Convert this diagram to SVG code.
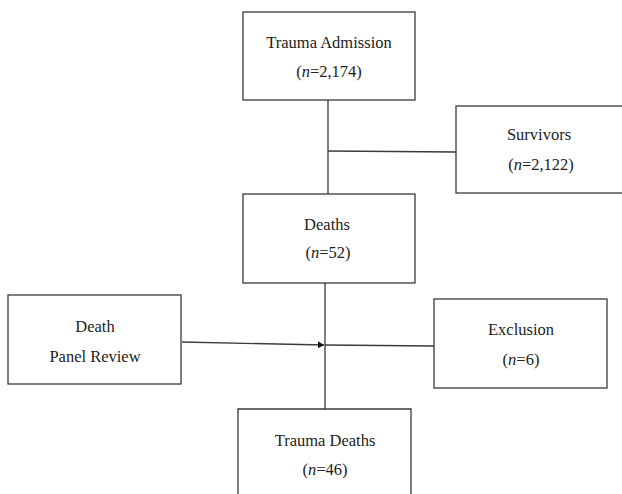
<svg xmlns="http://www.w3.org/2000/svg" width="622" height="494" viewBox="0 0 622 494">
<style>
.box{fill:#fff;stroke:#3a3a3a;stroke-width:1.3}
.t{font-family:"Liberation Serif","Times New Roman",serif;font-size:16.5px;fill:#222;text-anchor:middle}
.c{fill:none;stroke:#3a3a3a;stroke-width:1.3}
</style>
<defs>
<marker id="ah" markerWidth="8" markerHeight="8" refX="6" refY="3.5" orient="auto" markerUnits="userSpaceOnUse">
<path d="M0,0 L6,3.5 L0,7 Z" fill="#111"/>
</marker>
</defs>
<rect width="622" height="494" fill="#fff"/>
<g id="connectors">
<line class="c" x1="328" y1="100" x2="328" y2="194"/>
<line class="c" x1="328" y1="151" x2="456" y2="152"/>
<line class="c" x1="325" y1="283" x2="325" y2="409"/>
<line class="c" x1="182" y1="342" x2="324" y2="345" marker-end="url(#ah)"/>
<line class="c" x1="325" y1="345" x2="434" y2="346"/>
</g>
<g id="admission">
<rect class="box" x="243" y="12" width="172" height="88"/>
<text class="t" x="329" y="48">Trauma Admission</text>
<text class="t" x="329" y="77">(<tspan font-style="italic">n</tspan>=2,174)</text>
</g>
<g id="survivors">
<rect class="box" x="456" y="106" width="170" height="87"/>
<text class="t" x="539" y="140">Survivors</text>
<text class="t" x="541" y="170">(<tspan font-style="italic">n</tspan>=2,122)</text>
</g>
<g id="deaths">
<rect class="box" x="243" y="194" width="172" height="89"/>
<text class="t" x="327" y="230">Deaths</text>
<text class="t" x="328" y="258">(<tspan font-style="italic">n</tspan>=52)</text>
</g>
<g id="panel">
<rect class="box" x="8" y="295" width="173" height="89"/>
<text class="t" x="95" y="332">Death</text>
<text class="t" x="95" y="362">Panel Review</text>
</g>
<g id="exclusion">
<rect class="box" x="434" y="299" width="173" height="89"/>
<text class="t" x="521" y="335">Exclusion</text>
<text class="t" x="521" y="365">(<tspan font-style="italic">n</tspan>=6)</text>
</g>
<g id="trauma-deaths">
<path class="box" d="M238,496 V409 H411 V496"/>
<text class="t" x="325" y="446">Trauma Deaths</text>
<text class="t" x="325" y="475">(<tspan font-style="italic">n</tspan>=46)</text>
</g>
</svg>
